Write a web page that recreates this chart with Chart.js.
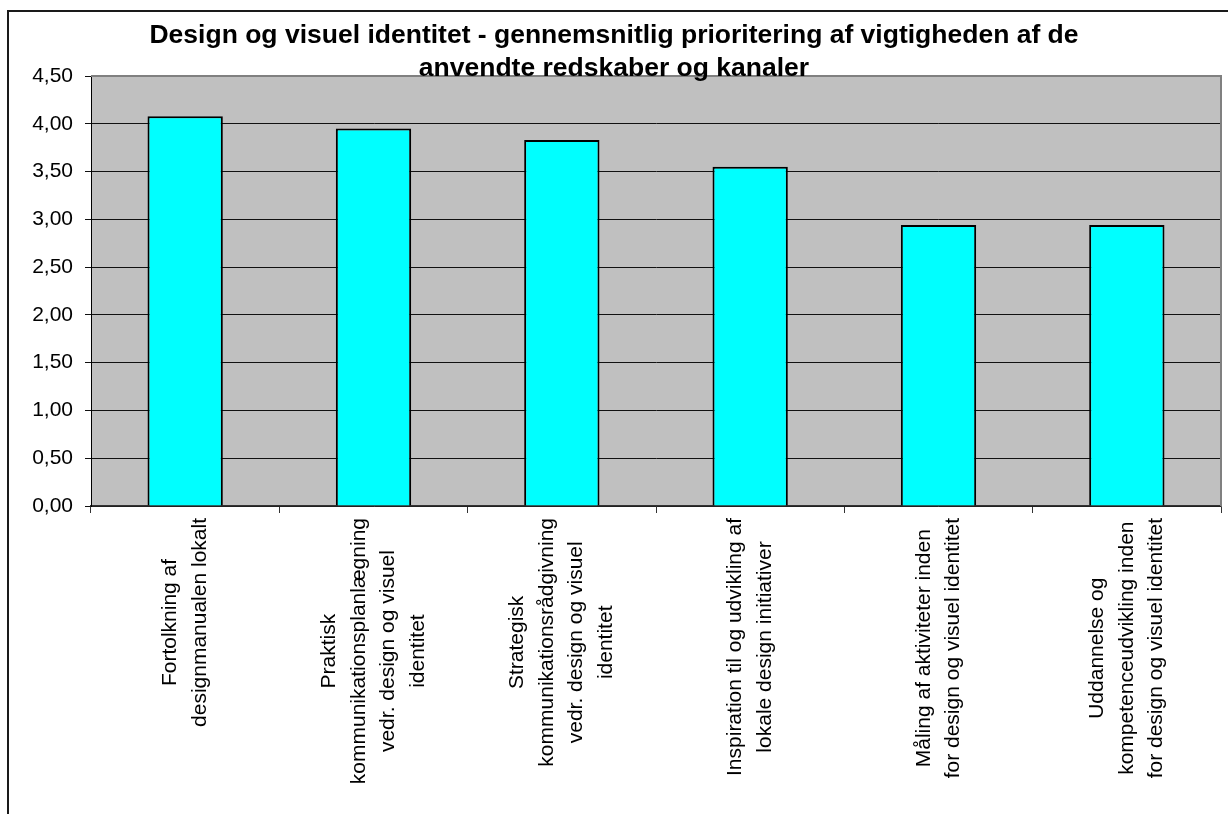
<!DOCTYPE html>
<html>
<head>
<meta charset="utf-8">
<script src="https://cdn.jsdelivr.net/npm/chart.js@4/dist/chart.umd.min.js"></script>
<style>
  html, body { margin: 0; padding: 0; background: #fff; overflow: hidden; }
  #wrap { position: relative; width: 1228px; height: 814px; }
  #frame { position: absolute; left: 7px; top: 10px; right: -10px; bottom: -10px;
           border-left: 2px solid #1a1a1a; border-top: 2px solid #1a1a1a; pointer-events: none; }
  canvas { position: absolute; left: 0; top: 0; }
</style>
</head>
<body>
<div id="wrap">
  <canvas id="prioChart" width="1228" height="814"></canvas>
  <div id="frame"></div>
</div>
<script>
// Design og visuel identitet — gennemsnitlig prioritering (bar chart)

const titleLines = [
  'Design og visuel identitet - gennemsnitlig prioritering af vigtigheden af de',
  'anvendte redskaber og kanaler'
];
const categories = [
  ['Fortolkning af', 'designmanualen lokalt'],
  ['Praktisk', 'kommunikationsplanlægning', 'vedr. design og visuel', 'identitet'],
  ['Strategisk', 'kommunikationsrådgivning', 'vedr. design og visuel', 'identitet'],
  ['Inspiration til og udvikling af', 'lokale design initiativer'],
  ['Måling af aktiviteter inden', 'for design og visuel identitet'],
  ['Uddannelse og', 'kompetenceudvikling inden', 'for design og visuel identitet']
];
const values = [4.08, 3.95, 3.83, 3.55, 2.94, 2.94];
const yMin = 0, yMax = 4.5, yStep = 0.5;

const FONT = 'Liberation Sans, Arial, sans-serif';

// grey plot area
const plotBg = {
  id: 'plotBg',
  beforeDraw(chart) {
    const { ctx, chartArea: a } = chart;
    ctx.save();
    ctx.fillStyle = '#C0C0C0';
    ctx.fillRect(a.left, a.top, a.right - a.left, a.bottom - a.top);
    ctx.restore();
  },
  beforeDatasetsDraw(chart) {
    const { ctx, chartArea: a } = chart;
    ctx.save();
    ctx.strokeStyle = '#808080';
    ctx.lineWidth = 2;
    ctx.beginPath();
    ctx.moveTo(a.left, a.top);
    ctx.lineTo(a.right, a.top);
    ctx.lineTo(a.right, a.bottom);
    ctx.stroke();
    ctx.restore();
  }
};

// rotated, centred multi-line category labels + title on top
const labelsAndTitle = {
  id: 'labelsAndTitle',
  afterDraw(chart) {
    const { ctx } = chart;
    const xs = chart.scales.x;
    ctx.save();
    ctx.fillStyle = '#000';
    ctx.font = '21px ' + FONT;
    ctx.textAlign = 'center';
    ctx.textBaseline = 'middle';
    const lineH = 29.5, top = xs.top + 12;
    categories.forEach((lines, i) => {
      const cx = xs.getPixelForValue(i);
      const maxW = Math.max(...lines.map(l => ctx.measureText(l).width));
      const cy = top + maxW / 2;
      lines.forEach((l, j) => {
        ctx.save();
        ctx.translate(cx + (j - (lines.length - 1) / 2) * lineH, cy);
        ctx.rotate(-Math.PI / 2);
        ctx.fillText(l, 0, 0);
        ctx.restore();
      });
    });

    ctx.font = 'bold 26.5px ' + FONT;
    ctx.textBaseline = 'alphabetic';
    titleLines.forEach((t, k) => ctx.fillText(t, 614, 43 + k * 33));
    ctx.restore();
  }
};

new Chart(document.getElementById('prioChart'), {
  type: 'bar',
  data: {
    labels: categories,
    datasets: [{
      data: values,
      backgroundColor: '#00FFFF',
      borderColor: '#000',
      borderWidth: 2,
      barPercentage: 0.4,
      categoryPercentage: 1
    }]
  },
  options: {
    responsive: false,
    animation: false,
    devicePixelRatio: 1,
    layout: { padding: { top: 76, right: 7, left: 0, bottom: 0 } },
    plugins: { legend: { display: false }, title: { display: false }, tooltip: { enabled: false } },
    scales: {
      x: {
        afterFit(s) { s.height = 308; },
        grid: { drawOnChartArea: false, drawTicks: true, tickLength: 7, color: '#333', offset: true },
        border: { color: '#333', width: 1.5 },
        ticks: { display: false }
      },
      y: {
        min: yMin, max: yMax,
        afterFit(s) { s.width = 91; },
        grid: { color: '#111', lineWidth: 1, tickLength: 6 },
        border: { color: '#000', width: 1 },
        ticks: {
          stepSize: yStep,
          padding: 12,
          color: '#000',
          font: { family: FONT, size: 21 },
          callback: v => v.toFixed(2).replace('.', ',')
        }
      }
    }
  },
  plugins: [plotBg, labelsAndTitle]
});
</script>
</body>
</html>
